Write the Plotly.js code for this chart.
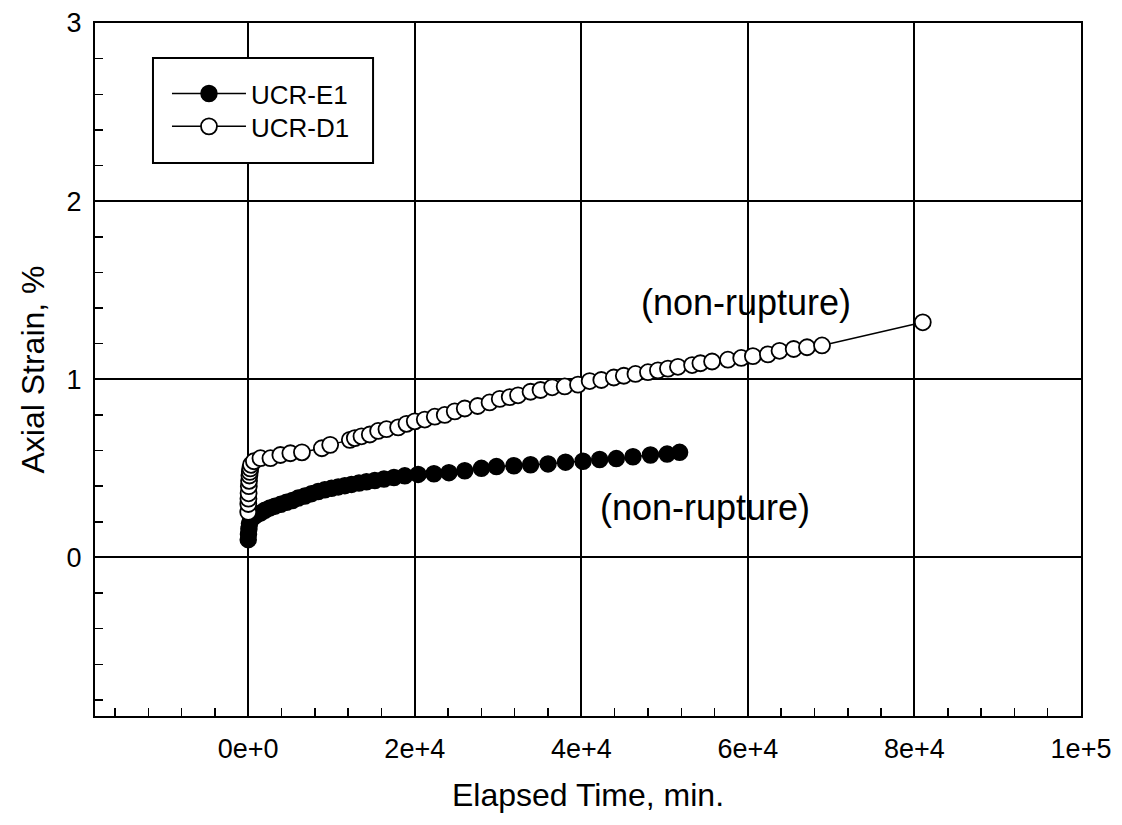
<!DOCTYPE html>
<html>
<head>
<meta charset="utf-8">
<script src="https://cdn.plot.ly/plotly-3.0.1.min.js"></script>
<style>html,body{margin:0;padding:0;background:#fff;}#chart{width:1122px;height:825px;}</style>
</head>
<body>
<div id="chart"></div>
<script>
// Series UCR-E1 (filled circles)
const e1Time = [0, 30, 80, 150, 300, 600, 1000, 1500, 2000, 2600, 3200, 3900, 4600, 5300, 6000, 6800, 7600, 8400, 9200, 10000, 10800, 11600, 12400, 13300, 14200, 15200, 16300, 17500, 18800, 20400, 22300, 24100, 26000, 28000, 29800, 31900, 33900, 36000, 38100, 40200, 42200, 44200, 46200, 48300, 50300, 51800];
const e1Strain = [0.10, 0.13, 0.16, 0.19, 0.21, 0.225, 0.24, 0.25, 0.265, 0.278, 0.288, 0.298, 0.31, 0.32, 0.333, 0.345, 0.358, 0.37, 0.38, 0.388, 0.396, 0.403, 0.41, 0.418, 0.425, 0.432, 0.44, 0.449, 0.458, 0.466, 0.47, 0.476, 0.487, 0.50, 0.51, 0.515, 0.52, 0.525, 0.535, 0.54, 0.55, 0.555, 0.565, 0.575, 0.58, 0.59];

// Series UCR-D1 (open circles)
const d1Time = [0, 10, 25, 45, 70, 100, 140, 190, 250, 330, 680, 1470, 2670, 3860, 5060, 6450, 8840, 9840, 12200, 12800, 13600, 14600, 15600, 16600, 18000, 19000, 20000, 21200, 22400, 23600, 24800, 26000, 27550, 28980, 30200, 31400, 32400, 33900, 35100, 36500, 38000, 39600, 41000, 42400, 43900, 45100, 46500, 48000, 49200, 50400, 51600, 53300, 54300, 55700, 57600, 59200, 60600, 62400, 63800, 65500, 67100, 68900, 81000];
const d1Strain = [0.255, 0.30, 0.33, 0.36, 0.40, 0.43, 0.46, 0.48, 0.50, 0.52, 0.54, 0.557, 0.557, 0.575, 0.585, 0.59, 0.613, 0.632, 0.66, 0.67, 0.68, 0.69, 0.71, 0.72, 0.73, 0.75, 0.764, 0.774, 0.79, 0.80, 0.82, 0.836, 0.85, 0.87, 0.89, 0.90, 0.91, 0.93, 0.94, 0.955, 0.96, 0.97, 0.99, 0.996, 1.01, 1.02, 1.03, 1.04, 1.05, 1.06, 1.07, 1.08, 1.09, 1.10, 1.11, 1.12, 1.13, 1.14, 1.16, 1.17, 1.18, 1.19, 1.32];

const xTickVals = [0, 20000, 40000, 60000, 80000, 100000];
const xTickText = ["0e+0", "2e+4", "4e+4", "6e+4", "8e+4", "1e+5"];
const yTickVals = [0, 1, 2, 3];
const yTickText = ["0", "1", "2", "3"];

const seriesNames = ["UCR-E1", "UCR-D1"];
const noteText = "(non-rupture)";
const notePositions = [[59800, 1.43], [54900, 0.28]];

const FONT = "Liberation Sans, Arial, Helvetica, sans-serif";

const traces = [
  {
    x: e1Time, y: e1Strain, name: seriesNames[0], type: "scatter", mode: "lines+markers",
    legend: "legend",
    line: {color: "#000", width: 1.5},
    marker: {symbol: "circle", size: 16, color: "#000", line: {color: "#000", width: 1.5}}
  },
  {
    x: d1Time, y: d1Strain, name: seriesNames[1], type: "scatter", mode: "lines+markers",
    legend: "legend2",
    line: {color: "#000", width: 1.5},
    marker: {symbol: "circle", size: 16, color: "#fff", line: {color: "#000", width: 1.8}}
  }
];

const axisCommon = {
  showline: true, linecolor: "#000", linewidth: 2, mirror: true,
  showgrid: true, gridcolor: "#000", gridwidth: 2,
  zeroline: false, ticks: "inside", ticklen: 8, tickcolor: "#000", tickwidth: 1.5,
  tickfont: {family: FONT, size: 27, color: "#000"}
};

const legendCommon = {
  x: 0.073, xanchor: "left", yanchor: "top",
  borderwidth: 0, bgcolor: "rgba(0,0,0,0)",
  font: {family: FONT, size: 26, color: "#000"},
  itemwidth: 74
};

const layout = {
  width: 1122, height: 825,
  paper_bgcolor: "#fff", plot_bgcolor: "#fff",
  margin: {l: 95, r: 41, t: 23, b: 109},
  showlegend: true,
  legend: Object.assign({}, legendCommon, {y: 0.932}),
  legend2: Object.assign({}, legendCommon, {y: 0.8846}),
  shapes: [{
    type: "rect", xref: "paper", yref: "paper",
    x0: 0.0588, x1: 0.282, y0: 0.798, y1: 0.9495,
    line: {color: "#000", width: 2}, fillcolor: "#fff", layer: "above"
  }],
  xaxis: Object.assign({}, axisCommon, {
    range: [-18400, 100000],
    tickmode: "array", tickvals: xTickVals, ticktext: xTickText,
    ticklabelstandoff: 8,
    minor: {dtick: 4000, tick0: 0, ticks: "inside", ticklen: 8, tickcolor: "#000", tickwidth: 1.5, showgrid: false},
    title: {text: "Elapsed Time, min.", font: {family: FONT, size: 32, color: "#000"}, standoff: 20}
  }),
  yaxis: Object.assign({}, axisCommon, {
    range: [-0.89, 3],
    tickmode: "array", tickvals: yTickVals, ticktext: yTickText,
    ticklabelstandoff: 6,
    minor: {dtick: 0.2, tick0: 0, ticks: "inside", ticklen: 8, tickcolor: "#000", tickwidth: 1.5, showgrid: false},
    title: {text: "Axial Strain, %", font: {family: FONT, size: 32, color: "#000"}, standoff: 12}
  }),
  annotations: notePositions.map(p => ({
    x: p[0], y: p[1], xref: "x", yref: "y", text: noteText, showarrow: false,
    font: {family: FONT, size: 36, color: "#000"}
  }))
};

Plotly.newPlot("chart", traces, layout, {displayModeBar: false, staticPlot: true});
</script>
</body>
</html>
